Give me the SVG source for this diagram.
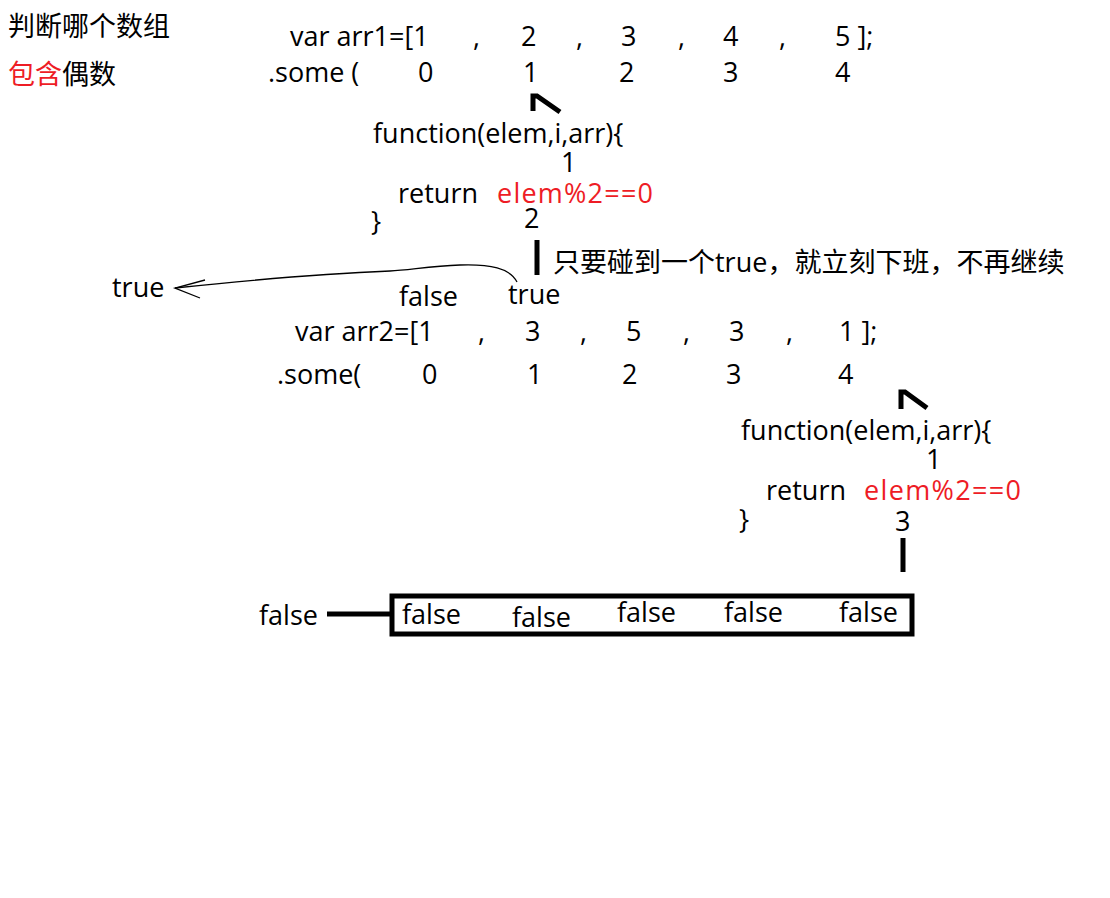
<svg xmlns="http://www.w3.org/2000/svg" width="1110" height="898" viewBox="0 0 1110 898">
<style>
text{font-family:"Open Sans","Noto Sans CJK SC",sans-serif;font-size:27px;fill:#000}
.r{fill:#ee1c25}
.th{stroke:#000;stroke-width:5;fill:none;stroke-linejoin:miter}
.thin{stroke:#000;stroke-width:1.3;fill:none}
</style>
<rect width="1110" height="898" fill="#fff"/>
<g id="title">
<text x="8" y="36">判断哪个数组</text>
<text x="8" y="84"><tspan class="r">包含</tspan>偶数</text>
</g>
<g id="arr1">
<text x="290" y="46">var arr1=[1</text>
<text x="473" y="46">,</text>
<text x="521" y="46">2</text>
<text x="576" y="46">,</text>
<text x="621" y="46">3</text>
<text x="678" y="46">,</text>
<text x="723" y="46">4</text>
<text x="779" y="46">,</text>
<text x="835" y="46">5 ];</text>
<text x="268" y="82">.some (</text>
<text x="418" y="82">0</text>
<text x="523" y="82">1</text>
<text x="619" y="82">2</text>
<text x="723" y="82">3</text>
<text x="835" y="82">4</text>
</g>
<g id="func1">
<text x="373" y="143">function(elem,i,arr){</text>
<text x="561" y="172">1</text>
<text x="398" y="203">return</text>
<text x="497" y="203" class="r" textLength="156">elem%2==0</text>
<text x="371" y="231">}</text>
<text x="524" y="228">2</text>
</g>
<g id="note">
<text x="553" y="272">只要碰到一个true，就立刻下班，不再继续</text>
</g>
<g id="result1">
<text x="112" y="297">true</text>
<text x="399" y="306">false</text>
<text x="508" y="304">true</text>
</g>
<g id="arr2">
<text x="295" y="341">var arr2=[1</text>
<text x="478" y="341">,</text>
<text x="525" y="341">3</text>
<text x="580" y="341">,</text>
<text x="626" y="341">5</text>
<text x="683" y="341">,</text>
<text x="729" y="341">3</text>
<text x="786" y="341">,</text>
<text x="839" y="341">1 ];</text>
<text x="277" y="384">.some(</text>
<text x="422" y="384">0</text>
<text x="527" y="384">1</text>
<text x="622" y="384">2</text>
<text x="726" y="384">3</text>
<text x="838" y="384">4</text>
</g>
<g id="func2">
<text x="741" y="440">function(elem,i,arr){</text>
<text x="926" y="469">1</text>
<text x="766" y="500">return</text>
<text x="864" y="500" class="r" textLength="157">elem%2==0</text>
<text x="739" y="529">}</text>
<text x="895" y="531">3</text>
</g>
<g id="results2">
<rect x="392" y="596" width="520" height="38" class="th" stroke-width="4"/>
<text x="402" y="624">false</text>
<text x="512" y="627">false</text>
<text x="617" y="622">false</text>
<text x="724" y="622">false</text>
<text x="839" y="622">false</text>
</g>
<g id="final">
<text x="259" y="625">false</text>
</g>
<g id="connectors">
<path class="th" d="M533,111 L533,96 L537,96 L560,112"/>
<path class="th" d="M901,409 L901,392 L905,392 L927,408"/>
<line class="th" x1="537" y1="240" x2="537" y2="275"/>
<line class="th" x1="903" y1="538" x2="903" y2="572"/>
<line class="th" x1="327" y1="614" x2="392" y2="614" stroke-width="4"/>
<path class="thin" d="M517,282 C510,268 490,264 460,265 C430,266 410,270 390,271 C340,273 260,279 175,288"/>
<path class="thin" d="M205,280 L175,288 L200,298"/>
</g>
</svg>
